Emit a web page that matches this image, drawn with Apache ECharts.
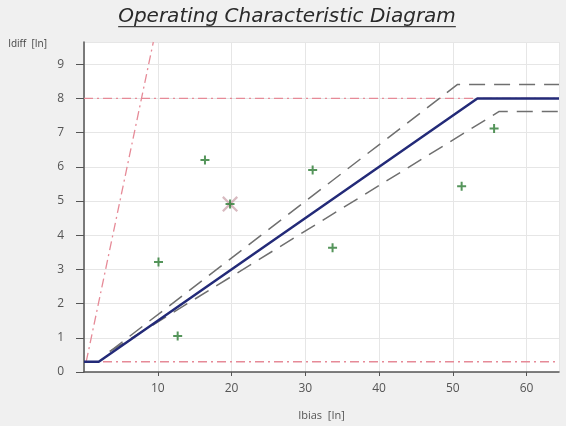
<!DOCTYPE html>
<html><head><meta charset="utf-8">
<script src="https://cdn.jsdelivr.net/npm/echarts@6/dist/echarts.min.js"></script>
<style>html,body{margin:0;padding:0;background:#f0f0f0}#c{width:566px;height:426px}</style>
</head><body><div id="c"></div>
<script>
const titleText = 'Operating Characteristic Diagram';
const xName = 'Ibias  [In]';
const yName = 'Idiff  [In]';
// operating characteristic (solid)
const charX = [0, 2, 53.33, 64.4];
const charY = [0.3, 0.3, 8, 8];
// tolerance band (dashed)
const upperX = [3.5, 50.65, 64.4];
const upperY = [0.6, 8.41, 8.41];
const lowerX = [3.5, 56.3, 64.4];
const lowerY = [0.6, 7.62, 7.62];
// limit lines (dash-dot)
const steepX = [0.3, 9.4];
const steepY = [0.3, 9.65];
const highX = [0, 64.4];
const highY = [8, 8];
const lowX = [0, 64.4];
const lowY = [0.3, 0.3];
// measured points
const measX = [10.1, 12.7, 16.4, 19.8, 31.0, 33.7, 51.2, 55.6];
const measY = [3.22, 1.05, 6.2, 4.91, 5.91, 3.63, 5.43, 7.12];
// highlighted (tripped) point
const markX = [19.8];
const markY = [4.91];
const xMin = 0, xMax = 64.4, xStep = 10;
const yMin = 0, yMax = 9.65, yStep = 1;

const pts = (xs, ys) => xs.map((x, i) => [x, ys[i]]);
const FONT = '"Open Sans", "Noto Sans", sans-serif';
const titleFont = 'italic 20px "DejaVu Sans"';
const cv = document.createElement('canvas').getContext('2d');
cv.font = titleFont;
const tw = cv.measureText(titleText).width;
const tcx = 287;

const redStyle = {color: '#e68a97', width: 1.3, type: [9, 4, 2, 4]};
const dashStyle = {color: '#6f6f6f', width: 1.5, type: [16, 9]};

const chart = echarts.init(document.getElementById('c'));
chart.setOption({
  animation: false,
  backgroundColor: '#f0f0f0',
  graphic: [
    {type: 'text', style: {text: titleText, x: tcx, y: 16.5, font: titleFont, fill: '#2a2a2a', align: 'center', verticalAlign: 'middle'}},
    {type: 'rect', shape: {x: tcx - tw / 2, y: 26, width: tw, height: 1.3}, style: {fill: '#444'}}
  ],
  grid: {left: 84, right: 7, top: 42, bottom: 47, show: true, backgroundColor: '#ffffff', borderWidth: 0},
  xAxis: {
    type: 'value', min: xMin, max: xMax, interval: xStep,
    name: xName, nameLocation: 'middle', nameGap: 38,
    nameTextStyle: {color: '#555', fontSize: 11, fontFamily: FONT},
    axisLine: {show: true, onZero: false, lineStyle: {color: '#555', width: 1.5}},
    axisTick: {show: true, length: 4, lineStyle: {color: '#555'}},
    axisLabel: {showMinLabel: false, showMaxLabel: false, color: '#555', fontSize: 12, margin: 11, fontFamily: FONT},
    splitLine: {show: true, lineStyle: {color: '#e6e6e6'}}
  },
  yAxis: {
    type: 'value', min: yMin, max: yMax, interval: yStep,
    name: yName, nameLocation: 'end', nameGap: -2,
    nameTextStyle: {color: '#444', fontSize: 10, fontFamily: FONT, align: 'right', verticalAlign: 'middle', padding: [0, 37, 0, 0]},
    axisLine: {show: true, onZero: false, lineStyle: {color: '#555', width: 1.5}},
    axisTick: {show: true, length: 8, lineStyle: {color: '#555'}},
    axisLabel: {showMaxLabel: false, color: '#555', fontSize: 12, margin: 20, fontFamily: FONT},
    splitLine: {show: true, lineStyle: {color: '#e6e6e6'}}
  },
  series: [
    {type: 'line', data: pts(highX, highY), showSymbol: false, lineStyle: redStyle, z: 2},
    {type: 'line', data: pts(lowX, lowY), showSymbol: false, lineStyle: redStyle, z: 2},
    {type: 'line', data: pts(steepX, steepY), showSymbol: false, lineStyle: redStyle, z: 2},
    {type: 'line', data: pts(upperX, upperY), showSymbol: false, lineStyle: dashStyle, z: 3},
    {type: 'line', data: pts(lowerX, lowerY), showSymbol: false, lineStyle: dashStyle, z: 3},
    {type: 'line', data: pts(charX, charY), showSymbol: false, lineStyle: {color: '#232a78', width: 2.5}, z: 4},
    {type: 'scatter', data: pts(markX, markY), symbol: 'path://M0,1L1,0L5,4L9,0L10,1L6,5L10,9L9,10L5,6L1,10L0,9L4,5Z', symbolSize: 16, itemStyle: {color: 'rgba(190,140,150,0.75)'}, z: 5},
    {type: 'scatter', data: pts(measX, measY), symbol: 'path://M3.5,0H5.5V3.5H9V5.5H5.5V9H3.5V5.5H0V3.5H3.5Z', symbolSize: 9, itemStyle: {color: '#2a7a32'}, z: 6}
  ]
});
</script></body></html>
